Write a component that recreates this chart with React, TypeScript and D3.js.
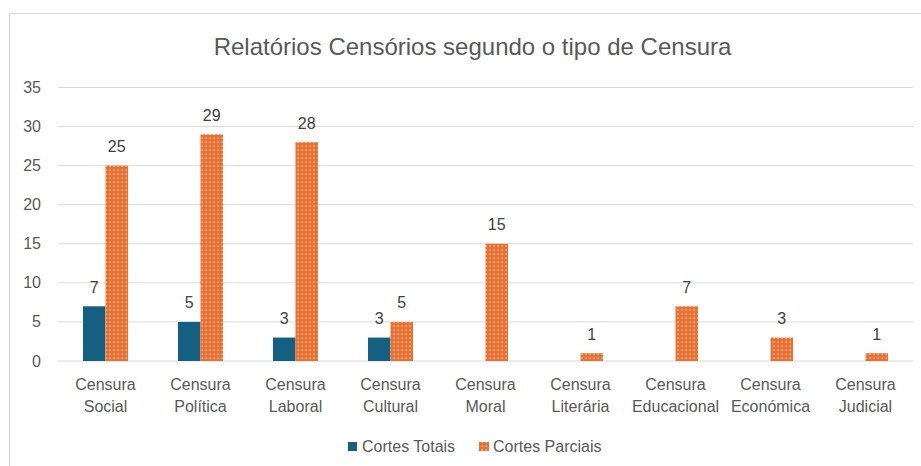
import React from "react";
import * as d3 from "d3";

const categories: string[][] = [
  ["Censura", "Social"],
  ["Censura", "Política"],
  ["Censura", "Laboral"],
  ["Censura", "Cultural"],
  ["Censura", "Moral"],
  ["Censura", "Literária"],
  ["Censura", "Educacional"],
  ["Censura", "Económica"],
  ["Censura", "Judicial"],
];
const cortesTotais: (number | null)[] = [7, 5, 3, 3, null, null, null, null, null];
const cortesParciais: number[] = [25, 29, 28, 5, 15, 1, 7, 3, 1];
const seriesNames = ["Cortes Totais", "Cortes Parciais"];
const yTicks = [0, 5, 10, 15, 20, 25, 30, 35];
const title = "Relatórios Censórios segundo o tipo de Censura";

const W = 921;
const H = 466;
const BLUE = "#156082";
const ORANGE = "#E97132";
const TXT = "#595959";
const GRID = "#d9d9d9";
const FONT = "'Liberation Sans', Arial, sans-serif";

export default function App() {
  const keys = categories.map((c) => c.join(" "));
  const x = d3.scaleBand<string>().domain(keys).range([58, 913]).padding(0);
  const y = d3.scaleLinear().domain([0, 35]).range([361, 87.5]);
  const groupW = 45;
  const inner = d3
    .scaleBand<string>()
    .domain(seriesNames)
    .range([0, groupW])
    .padding(0);

  const series = [
    { name: seriesNames[0], values: cortesTotais, fill: BLUE },
    { name: seriesNames[1], values: cortesParciais, fill: "url(#dots)" },
  ];

  return (
    <svg
      width={W}
      height={H}
      style={{ position: "absolute", left: 0, top: 0, background: "#fff" }}
      fontFamily={FONT}
    >
      <defs>
        <pattern id="dots" width={4} height={4} patternUnits="userSpaceOnUse">
          <rect width={4} height={4} fill={ORANGE} />
          <rect x={1.5} y={1.5} width={1.2} height={1.2} fill="#fde3d3" />
        </pattern>
      </defs>
      <rect x={9.5} y={13.5} width={1200} height={1200} fill="#fff" stroke={GRID} />
      <text
        x={472.5}
        y={46}
        textAnchor="middle"
        dominantBaseline="central"
        fontSize={24}
        fill={TXT}
      >
        {title}
      </text>
      {yTicks.map((t) => (
        <g key={t}>
          <line x1={58} x2={913} y1={y(t)} y2={y(t)} stroke={GRID} strokeWidth={1} />
          <text
            x={41}
            y={y(t)}
            textAnchor="end"
            dominantBaseline="central"
            fontSize={16}
            fill={TXT}
          >
            {t}
          </text>
        </g>
      ))}
      {series.map((s) =>
        s.values.map((v, i) => {
          if (v == null) return null;
          const cx = (x(keys[i]) as number) + x.bandwidth() / 2 - groupW / 2;
          const bx = cx + (inner(s.name) as number);
          const bw = inner.bandwidth();
          return (
            <g key={s.name + i}>
              <rect
                x={bx}
                y={y(v)}
                width={bw}
                height={y(0) - y(v)}
                fill={s.fill}
              />
              <text
                x={bx + bw / 2}
                y={y(v) - 19}
                textAnchor="middle"
                dominantBaseline="central"
                fontSize={16}
                fill="#404040"
              >
                {v}
              </text>
            </g>
          );
        })
      )}
      {categories.map((c, i) => (
        <text
          key={keys[i]}
          x={(x(keys[i]) as number) + x.bandwidth() / 2}
          textAnchor="middle"
          fontSize={16}
          fill={TXT}
        >
          {c.map((line, j) => (
            <tspan key={j} x={(x(keys[i]) as number) + x.bandwidth() / 2} y={384 + j * 22} dominantBaseline="central">
              {line}
            </tspan>
          ))}
        </text>
      ))}
      <g>
        <rect x={348} y={442} width={9} height={9} fill={BLUE} />
        <text x={362} y={446.5} dominantBaseline="central" fontSize={16} fill={TXT}>
          {seriesNames[0]}
        </text>
        <rect x={479} y={442} width={10} height={9} fill="url(#dots)" />
        <text x={493} y={446.5} dominantBaseline="central" fontSize={16} fill={TXT}>
          {seriesNames[1]}
        </text>
      </g>
    </svg>
  );
}
